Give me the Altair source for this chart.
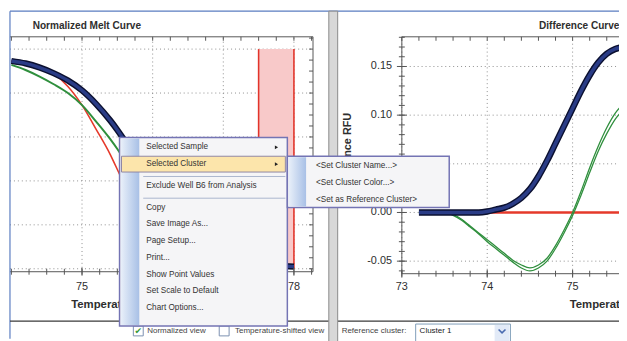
import altair as alt
import pandas as pd

# ------------------------------------------------------------------ data
# Normalized melt curve (left panel)
melt_temp = [74.0, 74.2, 74.4, 74.6, 74.8, 75.0, 75.2, 75.4, 75.5, 75.6,
             75.8, 76.0, 76.2, 76.4, 76.6, 76.8, 77.0, 77.4, 77.8, 78.0]
melt_cluster1 = [0.946, 0.935, 0.916, 0.890, 0.857, 0.812, 0.750, 0.675, 0.632, 0.585,
                 0.475, 0.350, 0.235, 0.150, 0.092, 0.057, 0.037, 0.020, 0.013, 0.010]
melt_cluster2 = [0.928, 0.905, 0.875, 0.840, 0.800, 0.745, 0.670, 0.590, 0.545, 0.495,
                 0.385, 0.280, 0.190, 0.125, 0.078, 0.050, 0.033, 0.019, 0.013, 0.010]
melt_cluster3 = [0.946, 0.935, 0.915, 0.887, 0.830, 0.745, 0.635, 0.520, 0.452, 0.382,
                 0.252, 0.152, 0.085, 0.045, 0.024, 0.014, 0.010, 0.007, 0.005, 0.005]
threshold_band = [77.5, 78.0]

# Difference curve (right panel)
diff_temp = [73.2, 73.3, 73.4, 73.5, 73.6, 73.7, 73.8, 73.9, 74.0, 74.1, 74.2, 74.3,
             74.4, 74.5, 74.6, 74.7, 74.8, 74.9, 75.0, 75.1, 75.2, 75.3, 75.4, 75.5, 75.6]
diff_cluster1 = [0.0, 0.0, 0.0, 0.0, 0.0, 0.0, 0.0, 0.0, 0.001, 0.003, 0.005, 0.009,
                 0.015, 0.024, 0.037, 0.053, 0.071, 0.089, 0.107, 0.125, 0.141, 0.154, 0.163, 0.168, 0.170]
diff_cluster2a = [0.0, 0.0, 0.0, 0.0, -0.002, -0.007, -0.014, -0.021, -0.028, -0.035, -0.042, -0.049,
                  -0.054, -0.057, -0.054, -0.047, -0.034, -0.018, 0.0, 0.022, 0.046, 0.068, 0.087, 0.102, 0.112]
diff_cluster2b = [0.0, 0.0, 0.0, 0.0, -0.003, -0.008, -0.015, -0.022, -0.030, -0.037, -0.044, -0.051,
                  -0.057, -0.060, -0.057, -0.050, -0.037, -0.021, -0.003, 0.018, 0.041, 0.063, 0.081, 0.096, 0.106]
ref_temp = [74.0, 74.4, 74.8, 75.2, 75.6]
ref_cluster = [0.0, 0.0, 0.0, 0.0, 0.0]

left_x_ticks = [75, 76, 77, 78]
left_x_labels = ["75", "76", "77", "78"]
left_y_grid = [0.0, 0.2, 0.4, 0.6, 0.8, 1.0]
right_x_ticks = [73, 74, 75, 76]
right_x_label_ticks = [73, 74, 75]
right_x_labels = ["73", "74", "75"]
right_y_ticks = [-0.05, 0.0, 0.05, 0.10, 0.15]
right_y_labels = ["-0.05", "0.00", "0.05", "0.10", "0.15"]

menu_items = ["Selected Sample", "Selected Cluster", "-", "Exclude Well B6 from Analysis", "-",
              "Copy", "Save Image As...", "Page Setup...", "Print...", "Show Point Values",
              "Set Scale to Default", "Chart Options..."]
submenu_items = ["<Set Cluster Name...>", "<Set Cluster Color...>", "<Set as Reference Cluster>"]

# ------------------------------------------------------------------ layout / style
OFF = 8
def P(v):
    return v - OFF

W, H = 619, 333
FONT = "Liberation Sans"
TXT = "#2e2e2e"
AX = "#555555"
GRID = "#8e8e8e"
NAVY = "#2a3c86"
OUTL = "#0b1030"
GREEN = "#2f8f3d"
RED = "#e5392a"


def sc(dom, rng):
    return alt.Scale(domain=dom, range=rng, nice=False, zero=False)

L_X0, L_X1 = 73.98, 78.27
L_Y0, L_Y1 = -0.0135, 1.056
R_X0, R_X1 = 73.0, 76.0
R_Y0, R_Y1 = -0.0629, 0.1805

def lx(f):
    return alt.X(f + ':Q', scale=sc([L_X0, L_X1], [P(10), P(317)]), axis=None)
def ly(f):
    return alt.Y(f + ':Q', scale=sc([L_Y0, L_Y1], [P(273), P(35)]), axis=None)
def rx(f):
    return alt.X(f + ':Q', scale=sc([R_X0, R_X1], [P(407), P(666.5)]), axis=None)
def ry(f):
    return alt.Y(f + ':Q', scale=sc([R_Y0, R_Y1], [P(275), P(35)]), axis=None)


def hrules(xe, ye, vals, a, b, **kw):
    return alt.Chart(pd.DataFrame({'v': vals, 'a': a, 'b': b})).mark_rule(**kw).encode(
        x=xe('a'), x2='b:Q', y=ye('v'))

def vrules(xe, ye, vals, a, b, **kw):
    return alt.Chart(pd.DataFrame({'T': vals, 'a': a, 'b': b})).mark_rule(**kw).encode(
        x=xe('T'), y=ye('a'), y2='b:Q')

def vticks(xe, vals, y0, y1):
    return alt.Chart(pd.DataFrame({'T': vals})).mark_rule(color=AX, strokeWidth=1).encode(
        x=xe('T'), y=alt.value(P(y0)), y2=alt.value(P(y1)))

def hticks(ye, vals, x0, x1):
    return alt.Chart(pd.DataFrame({'v': vals})).mark_rule(color=AX, strokeWidth=1).encode(
        y=ye('v'), x=alt.value(P(x0)), x2=alt.value(P(x1)))

def curve(xe, ye, t, v, color, w):
    return alt.Chart(pd.DataFrame({'T': t, 'v': v})).mark_line(
        color=color, strokeWidth=w, interpolate='monotone', strokeCap='butt').encode(x=xe('T'), y=ye('v'))

def label_text(txt, x, y, size, bold=False, align='left', angle=0, color=TXT, font=FONT):
    kw = dict(align=align, baseline='middle', fontSize=size, font=font, color=color)
    if bold:
        kw['fontWeight'] = 'bold'
    if angle:
        kw['angle'] = angle
    return alt.Chart(pd.DataFrame({'t': [txt]})).mark_text(**kw).encode(
        x=alt.value(P(x)), y=alt.value(P(y)), text='t:N')

# ------------------------------------------------------------------ left panel
l_minor = [74 + 0.25 * i for i in range(18)]
l_ymin = [0.05 * i for i in range(22)]
left = alt.layer(
    hrules(lx, ly, left_y_grid, L_X0, L_X1, color=GRID, strokeDash=[1, 3], strokeWidth=1),
    vrules(lx, ly, left_x_ticks, L_Y0, L_Y1, color=GRID, strokeDash=[1, 3], strokeWidth=1),
    alt.Chart(pd.DataFrame({'a': [threshold_band[0]], 'b': [threshold_band[1]], 'lo': [0.0], 'hi': [1.0]}))
    .mark_rect(color='#f8c9c9').encode(x=lx('a'), x2='b:Q', y=ly('lo'), y2='hi:Q'),
    vrules(lx, ly, threshold_band, 0.0, 1.0, color='#e2342a', strokeWidth=1.6),
    curve(lx, ly, melt_temp, melt_cluster3, RED, 1.6),
    curve(lx, ly, melt_temp, melt_cluster2, GREEN, 2.0),
    curve(lx, ly, melt_temp, melt_cluster1, OUTL, 6.3),
    curve(lx, ly, melt_temp, melt_cluster1, NAVY, 3.4),
    hrules(lx, ly, [L_Y0, L_Y1], L_X0, L_X1, color=AX, strokeWidth=1),
    vrules(lx, ly, [L_X1], L_Y0, L_Y1, color=AX, strokeWidth=1),
    vticks(lx, l_minor, 270, 276),
    vticks(lx, left_x_ticks, 269, 277),
    vticks(lx, l_minor, 35, 39),
    hticks(ly, l_ymin, 313, 317),
    alt.Chart(pd.DataFrame({'T': left_x_ticks, 'lab': left_x_labels})).mark_text(
        fontSize=11, font=FONT, color=TXT, baseline='middle').encode(
        x=lx('T'), y=alt.value(P(289)), text='lab:N'),
    label_text("Normalized Melt Curve", 33, 24, 10.2, bold=True),
    label_text("Temperature (°C)", 72, 307, 11.5, bold=True),
)

# ------------------------------------------------------------------ right panel
r_minor = [73 + 0.2 * i for i in range(16)]
r_ymin = [-0.06 + 0.01 * i for i in range(25)]
right = alt.layer(
    hrules(rx, ry, right_y_ticks, R_X0, R_X1, color=GRID, strokeDash=[1, 3], strokeWidth=1),
    vrules(rx, ry, right_x_ticks, R_Y0, R_Y1, color=GRID, strokeDash=[1, 3], strokeWidth=1),
    curve(rx, ry, ref_temp, ref_cluster, RED, 2.4),
    curve(rx, ry, diff_temp, diff_cluster2a, GREEN, 1.3),
    curve(rx, ry, diff_temp, diff_cluster2b, GREEN, 1.3),
    curve(rx, ry, diff_temp, diff_cluster1, OUTL, 6.5),
    curve(rx, ry, diff_temp, diff_cluster1, NAVY, 3.6),
    hrules(rx, ry, [R_Y0, R_Y1], R_X0, R_X1, color=AX, strokeWidth=1),
    vrules(rx, ry, [R_X0], R_Y0, R_Y1, color=AX, strokeWidth=1),
    vticks(rx, r_minor, 272, 278),
    vticks(rx, right_x_ticks, 271, 279),
    vticks(rx, r_minor, 35, 39),
    hticks(ry, r_ymin, 404, 410),
    hticks(ry, right_y_ticks, 402, 412),
    alt.Chart(pd.DataFrame({'T': right_x_label_ticks, 'lab': right_x_labels})).mark_text(
        fontSize=11, font=FONT, color=TXT, baseline='middle').encode(
        x=rx('T'), y=alt.value(P(289)), text='lab:N'),
    alt.Chart(pd.DataFrame({'v': right_y_ticks, 'lab': right_y_labels})).mark_text(
        fontSize=11, font=FONT, color=TXT, baseline='middle', align='right').encode(
        y=ry('v'), x=alt.value(P(397)), text='lab:N'),
    label_text("Difference Curve", 546, 24, 10.2, bold=True),
    label_text("Temperature (°C)", 577, 307, 11.5, bold=True),
    label_text("Difference RFU", 352, 112, 11, bold=True, align='right', angle=270),
)

# ------------------------------------------------------------------ window chrome & context menu
def px_df(rows, cols):
    df = pd.DataFrame(rows, columns=cols)
    for c in cols:
        if c in ('x', 'x2', 'y', 'y2'):
            df[c] = df[c] - OFF
    return df

def rects(rows, **kw):
    df = px_df(rows, ['x', 'x2', 'y', 'y2', 'fill', 'stroke', 'sw'])
    return alt.Chart(df).mark_rect(**kw).encode(
        x=alt.X('x:Q', scale=None), x2='x2:Q', y=alt.Y('y:Q', scale=None), y2='y2:Q',
        fill=alt.Fill('fill:N', scale=None), stroke=alt.Stroke('stroke:N', scale=None),
        strokeWidth=alt.StrokeWidth('sw:Q', scale=None))

def rules(rows):
    df = px_df(rows, ['x', 'x2', 'y', 'y2', 'c', 'sw'])
    return alt.Chart(df).mark_rule().encode(
        x=alt.X('x:Q', scale=None), x2='x2:Q', y=alt.Y('y:Q', scale=None), y2='y2:Q',
        color=alt.Color('c:N', scale=None), strokeWidth=alt.StrokeWidth('sw:Q', scale=None))

def texts(rows, size, color, font=FONT, align='left'):
    df = px_df(rows, ['x', 'y', 't'])
    return alt.Chart(df).mark_text(align=align, baseline='middle', fontSize=size, font=font,
                                   color=color).encode(
        x=alt.X('x:Q', scale=None), y=alt.Y('y:Q', scale=None), text='t:N')

def strip_gradient():
    return alt.LinearGradient(gradient='linear', x1=0, x2=1, y1=0, y2=0,
                              stops=[alt.GradientStop(color='#e8eff9', offset=0),
                                     alt.GradientStop(color='#a8c0e6', offset=1)])

# menu geometry computed from row layout
ROW, SEPX = 17, 5
MX0, MX1, MTOP = 121, 291, 137
item_rows, sep_rows = [], []
yc = MTOP + 10
prev = None
for it in menu_items:
    if it == "-":
        sep_rows.append((MX0 + 24, MX1 - 2, prev + 12.5, prev + 12.5, '#aab5cd', 1))
        yc += SEPX
        continue
    item_rows.append((MX0 + 27, yc, it))
    prev = yc
    yc += ROW
MBOT = prev + 18
cluster_y = item_rows[1][1]
SX0, SX1, STOP = MX1, 455, cluster_y - 8
sub_rows = [(SX0 + 29, STOP + 10 + ROW * i, s) for i, s in enumerate(submenu_items)]
SBOT = sub_rows[-1][1] + 8

chrome = alt.layer(
    rules([(10, 627, 9, 9, '#5a7cc0', 1.2), (10, 10, 9, 341, '#5a7cc0', 1.2),
           (10, 333, 323, 323, '#3a3a3a', 1.2), (342, 627, 323, 323, '#3a3a3a', 1.2)]),
    rects([(333, 342, 9, 345, '#d8d8d8', '#8a8a8a', 1),
           (135, 145, 328, 338, '#ffffff', '#7b8fb0', 1),
           (222, 232, 328, 338, '#ffffff', '#7b8fb0', 1),
           (421, 517, 326, 345, '#ffffff', '#7f9db9', 1),
           (501, 516, 327, 345, '#e2eaf7', 'none', 0)]),
    texts([(149, 333, "Normalized view"), (238, 333, "Temperature-shifted view"),
           (346, 333, "Reference cluster:")], 8.1, '#444444'),
    texts([(425, 333, "Cluster 1")], 8.1, '#222222'),
    texts([(140, 333, "✔")], 9, '#3a9a3a', font="DejaVu Sans", align='center'),
    alt.Chart(px_df([(505, 331.5, 0), (508.5, 335, 1), (512, 331.5, 2)], ['x', 'y', 'o']))
    .mark_line(color='#4a6bb0', strokeWidth=1.6).encode(
        x=alt.X('x:Q', scale=None), y=alt.Y('y:Q', scale=None), order='o:Q'),
    # context menu
    rects([(MX0, MX1, MTOP, MBOT, '#f5f5f7', '#7474b4', 1.5),
           (SX0, SX1, STOP, SBOT, '#f5f5f7', '#7474b4', 1.5)]),
    alt.Chart(px_df([(MX0 + 1.5, MX0 + 20, MTOP + 1, MBOT - 1), (SX0 + 1.5, SX0 + 19, STOP + 1, SBOT - 1)],
                    ['x', 'x2', 'y', 'y2']))
    .mark_rect(fill=strip_gradient()).encode(
        x=alt.X('x:Q', scale=None), x2='x2:Q', y=alt.Y('y:Q', scale=None), y2='y2:Q'),
    rects([(MX0 + 2, MX1 - 2, cluster_y - 8, cluster_y + 8, '#fce5ab', '#8f86a3', 1)]),
    rules(sep_rows),
    texts([(r[0], r[1], r[2]) for r in item_rows], 8.3, '#333333'),
    texts(sub_rows, 8.3, '#333333'),
    alt.Chart(px_df([(280, item_rows[0][1]), (280, item_rows[1][1])], ['x', 'y']))
    .mark_point(shape='triangle-right', filled=True, size=14, color='#222222', opacity=1).encode(
        x=alt.X('x:Q', scale=None), y=alt.Y('y:Q', scale=None)),
)

chart = alt.layer(left, right, chrome).resolve_scale(
    x='independent', y='independent'
).properties(
    width=W, height=H, padding=0, background='white',
    autosize=alt.AutoSizeParams(type='none'),
).configure_view(stroke=None)

chart.save("out.html", embed_options={"renderer": "svg", "actions": False})
